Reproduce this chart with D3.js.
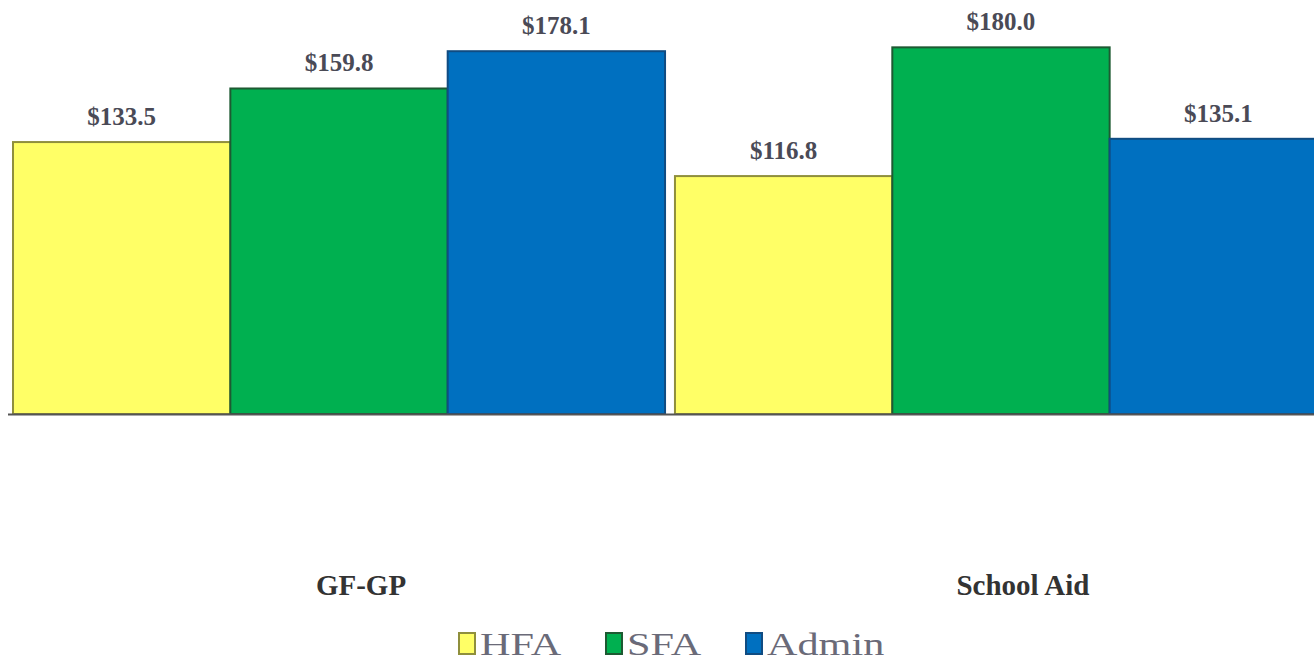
<!DOCTYPE html>
<html>
<head>
<meta charset="utf-8">
<script src="https://cdn.jsdelivr.net/npm/d3@7"></script>
<style>
  html, body { margin: 0; padding: 0; background: #fff; }
  svg { display: block; }
</style>
</head>
<body>
<script>
/** chart data */
const categories = ["GF-GP", "School Aid"];
const series = ["HFA", "SFA", "Admin"];
const hfaValues = [133.5, 116.8];
const sfaValues = [159.8, 180.0];
const adminValues = [178.1, 135.1];

const width = 1314;
const height = 663;
const baseY = 414;
const fills = { HFA: "#ffff66", SFA: "#00b050", Admin: "#0070c0" };
const strokes = { HFA: "#8f8f3c", SFA: "#1d5a32", Admin: "#104c82" };

const valueBySeries = { HFA: hfaValues, SFA: sfaValues, Admin: adminValues };

// one row per category, one column per series
var rows = categories.map((c, i) => {
    var r = { category: c };
    series.forEach(s => { r[s] = valueBySeries[s][i]; });
    return r;
});

var svg = d3.select("body")
    .append("svg")
    .attr("width", width)
    .attr("height", height);

var x0 = d3.scaleBand()
    .domain(categories)
    .range([13, 1327])
    .paddingInner(0.015)
    .paddingOuter(0);

var x1 = d3.scaleBand()
    .domain(series)
    .range([0, x0.bandwidth()]);

// 0..200 mapped so that 133.5 lands at y=142
var y = d3.scaleLinear()
    .domain([0, 200])
    .range([baseY, baseY - 200 * 2.037]);

var groups = svg.selectAll("g.group")
    .data(rows)
    .enter()
    .append("g")
    .attr("class", "group")
    .attr("transform", d => "translate(" + x0(d.category) + ",0)");

groups.selectAll("rect")
    .data(d => series.map(s => ({ key: s, value: d[s] })))
    .enter()
    .append("rect")
    .attr("x", d => x1(d.key))
    .attr("y", d => y(d.value))
    .attr("width", x1.bandwidth())
    .attr("height", d => baseY - y(d.value))
    .attr("fill", d => fills[d.key])
    .attr("stroke", d => strokes[d.key])
    .attr("stroke-width", 2);

groups.selectAll("text.value")
    .data(d => series.map(s => ({ key: s, value: d[s] })))
    .enter()
    .append("text")
    .attr("class", "value")
    .attr("x", d => x1(d.key) + x1.bandwidth() / 2)
    .attr("y", d => y(d.value) - 17)
    .attr("text-anchor", "middle")
    .attr("font-family", "'Liberation Serif', 'Times New Roman', serif")
    .attr("font-size", 25)
    .attr("font-weight", "bold")
    .attr("fill", "#4a4a56")
    .text(d => "$" + d.value.toFixed(1));

// baseline
svg.append("g")
    .attr("transform", "translate(0," + baseY + ")")
    .call(d3.axisBottom(x0).tickSize(0).tickFormat(""))
    .call(g => g.select(".domain")
        .attr("d", "M8,0.5H" + width)
        .attr("stroke", "#555")
        .attr("stroke-width", 2));

// category labels
svg.selectAll("text.cat")
    .data(categories)
    .enter()
    .append("text")
    .attr("class", "cat")
    .attr("x", d => x0(d) + x0.bandwidth() / 2 + 22)
    .attr("y", 595)
    .attr("text-anchor", "middle")
    .attr("font-family", "'Liberation Serif', 'Times New Roman', serif")
    .attr("font-size", 29)
    .attr("font-weight", "bold")
    .attr("fill", "#333")
    .text(d => d);

// legend
const legendX = [458, 605, 745];
var legend = svg.append("g").attr("class", "legend");
series.forEach((s, i) => {
    var item = legend.append("g")
        .attr("transform", "translate(" + legendX[i] + ",633)");
    item.append("rect")
        .attr("x", 1)
        .attr("y", 0)
        .attr("width", 16)
        .attr("height", 21)
        .attr("fill", fills[s])
        .attr("stroke", strokes[s])
        .attr("stroke-width", 2);
    item.append("text")
        .attr("transform", "translate(22,22) scale(1.32,1)")
        .attr("font-family", "'Liberation Serif', 'Times New Roman', serif")
        .attr("font-size", 32)
        .attr("fill", "#6a6a78")
        .text(s);
});
</script>
</body>
</html>
